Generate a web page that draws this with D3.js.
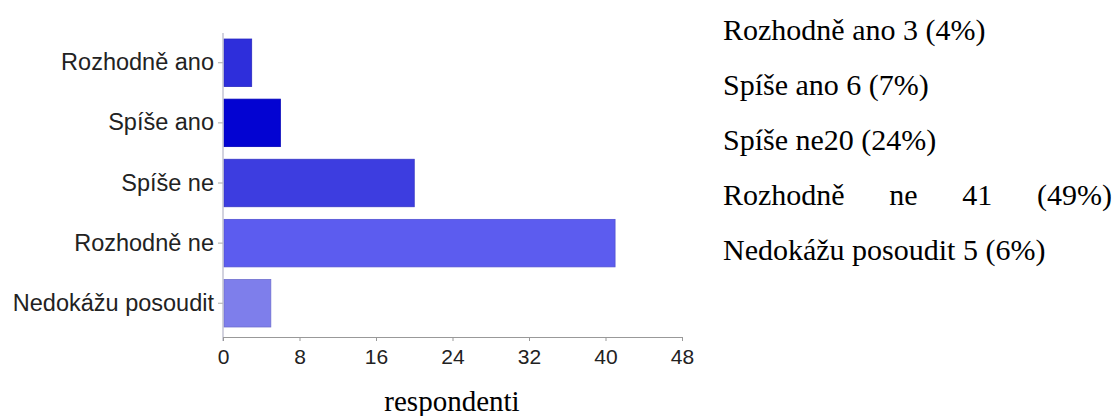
<!DOCTYPE html>
<html>
<head>
<meta charset="utf-8">
<script src="https://cdn.jsdelivr.net/npm/d3@7"></script>
<style>
  html, body { margin: 0; padding: 0; background: #fff; }
  svg { display: block; }
</style>
</head>
<body>
<svg id="chart" width="1114" height="416"></svg>
<script>
// Survey answers and respondent counts
const categories = ["Rozhodně ano", "Spíše ano", "Spíše ne", "Rozhodně ne", "Nedokážu posoudit"];
const counts = [3, 6, 20, 41, 5];
const percents = [4, 7, 24, 49, 6];
const barColors = ["#2e2edb", "#0303d2", "#3d3de0", "#5c5cef", "#7e7eeb"];
const xTicks = [0, 8, 16, 24, 32, 40, 48];
const xTitle = "respondenti";
// separator between answer and count in the summary list
const countSeparators = [" ", " ", "", " ", " "];
// lines of the summary list that are spread to the full column width
const justified = [false, false, false, true, false];

const svg = d3.select("#chart");

const x = d3.scaleLinear().domain([0, 48]).range([223, 682]);
const y = d3.scaleBand().domain(categories).range([33, 333])
  .paddingInner(0.21).paddingOuter(0.1);

const sans = "'Liberation Sans', Arial, Helvetica, sans-serif";
const serif = "'Liberation Serif', 'Times New Roman', serif";

// bars
svg.append("g").selectAll("rect")
  .data(categories)
  .join("rect")
  .attr("x", x(0) + 1)
  .attr("y", d => y(d))
  .attr("width", (d, i) => x(counts[i]) - x(0) - 1)
  .attr("height", y.bandwidth())
  .attr("fill", (d, i) => barColors[i])
  .attr("stroke", (d, i) => d3.color(barColors[i]).darker(0.35))
  .attr("stroke-width", 0.8);

// category axis
const yAxis = svg.append("g")
  .attr("transform", `translate(${x(0)},0)`)
  .call(d3.axisLeft(y).tickSize(5).tickPadding(4));
yAxis.select(".domain").remove();
yAxis.selectAll(".tick line").attr("stroke", "#aaa");
yAxis.selectAll(".tick text")
  .attr("fill", "#222")
  .style("font-family", sans)
  .style("font-size", "23.5px");
svg.append("line")
  .attr("x1", x(0)).attr("x2", x(0))
  .attr("y1", 33).attr("y2", 341)
  .attr("stroke", "#b4b4c8").attr("stroke-width", 1.2);

// value axis
const xAxis = svg.append("g")
  .attr("transform", "translate(0,337)")
  .call(d3.axisBottom(x).tickValues(xTicks).tickSize(4).tickPadding(8).tickSizeOuter(0));
xAxis.select(".domain").attr("stroke", "#999").attr("stroke-width", 1.2);
xAxis.selectAll(".tick line").attr("stroke", "#999");
xAxis.selectAll(".tick text")
  .attr("fill", "#222")
  .style("font-family", sans)
  .style("font-size", "21px");

svg.append("text")
  .attr("x", 452).attr("y", 411)
  .attr("text-anchor", "middle")
  .style("font-family", serif)
  .style("font-size", "29px")
  .attr("fill", "#000")
  .text(xTitle);

// summary list on the right
const listX = 723, listRight = 1112, listTop = 40, listStep = 55;
const list = svg.append("g")
  .style("font-family", serif)
  .style("font-size", "30px")
  .attr("fill", "#000");

categories.forEach((c, i) => {
  const line = `${c}${countSeparators[i]}${counts[i]} (${percents[i]}%)`;
  const yy = listTop + i * listStep;
  if (!justified[i]) {
    list.append("text").attr("x", listX).attr("y", yy).text(line);
  } else {
    const words = line.split(" ");
    const nodes = words.map(w => list.append("text").attr("y", yy).text(w));
    const widths = nodes.map(n => n.node().getComputedTextLength());
    const gap = (listRight - listX - d3.sum(widths)) / (words.length - 1);
    let cx = listX;
    nodes.forEach((n, k) => { n.attr("x", cx); cx += widths[k] + gap; });
  }
});
</script>
</body>
</html>
